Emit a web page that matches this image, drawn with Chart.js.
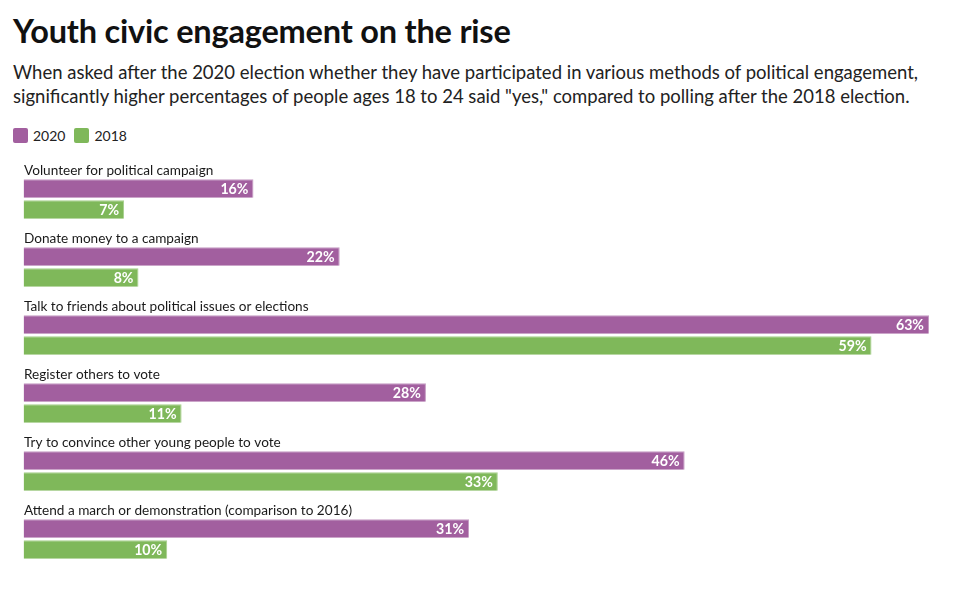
<!DOCTYPE html>
<html>
<head>
<meta charset="utf-8">
<script src="https://cdn.jsdelivr.net/npm/chart.js@4/dist/chart.umd.min.js"></script>
<style>
  html, body { margin: 0; padding: 0; background: #fff; width: 980px; height: 595px; overflow: hidden; }
  body { position: relative; font-family: Lato, "Open Sans", sans-serif; color: #111; }
  #title { position: absolute; left: 13px; top: 11px; font-size: 32.5px; font-weight: 700; color: #111; white-space: nowrap; letter-spacing: -0.2px; }
  #subtitle { position: absolute; left: 13px; top: 60px; font-size: 18.5px; line-height: 24px; color: #222; white-space: nowrap; }
  #legend { position: absolute; left: 13px; top: 127px; display: flex; align-items: center; font-size: 14px; color: #222; }
  .item { display: flex; align-items: center; margin-right: 9px; }
  .sw { width: 15px; height: 15px; border-radius: 2px; margin-right: 5px; }
  #wrap { position: absolute; left: 0; top: 150px; width: 980px; height: 445px; }
</style>
</head>
<body>
<div id="title">Youth civic engagement on the rise</div>
<div id="subtitle">When asked after the 2020 election whether they have participated in various methods of political engagement,<br>significantly higher percentages of people ages 18 to 24 said "yes," compared to polling after the 2018 election.</div>
<div id="legend"></div>
<div id="wrap"><canvas id="c"></canvas></div>
<script>
const categories = [
  "Volunteer for political campaign",
  "Donate money to a campaign",
  "Talk to friends about political issues or elections",
  "Register others to vote",
  "Try to convince other young people to vote",
  "Attend a march or demonstration (comparison to 2016)"
];
const values2020 = [16, 22, 63, 28, 46, 31];
const values2018 = [7, 8, 59, 11, 33, 10];
const seriesNames = ["2020", "2018"];
const colors = ["#a25f9f", "#7fb85a"];
const borders = ["#c59bc3", "#a6d08c"];

const categoryLabels = {
  id: 'categoryLabels',
  afterDatasetsDraw(chart) {
    const ctx = chart.ctx;
    const y = chart.scales.y;
    const band = (y.getPixelForValue(1) - y.getPixelForValue(0));
    ctx.save();
    ctx.font = '13.6px Lato, "Open Sans", sans-serif';
    ctx.fillStyle = '#1a1a1a';
    ctx.textAlign = 'left';
    ctx.textBaseline = 'alphabetic';
    chart.data.labels.forEach((lab, i) => {
      const cy = y.getPixelForValue(i);
      ctx.fillText(lab, chart.chartArea.left + 0.5, cy - band / 2 + 10);
    });
    ctx.restore();
  }
};

const valueLabels = {
  id: 'valueLabels',
  afterDatasetsDraw(chart) {
    const ctx = chart.ctx;
    ctx.save();
    ctx.font = 'bold 14.2px Lato, "Open Sans", sans-serif';
    ctx.fillStyle = '#ffffff';
    ctx.textAlign = 'right';
    ctx.textBaseline = 'middle';
    chart.data.datasets.forEach((ds, di) => {
      const meta = chart.getDatasetMeta(di);
      meta.data.forEach((bar, i) => {
        ctx.fillText(ds.data[i] + '%', bar.x - 5, bar.y + 1);
      });
    });
    ctx.restore();
  }
};

const chart = new Chart(document.getElementById('c'), {
  type: 'bar',
  data: {
    labels: categories,
    datasets: [
      { label: seriesNames[0], data: values2020, backgroundColor: colors[0], borderColor: borders[0], borderWidth: {top: 1, right: 1, bottom: 0, left: 0}, borderSkipped: false },
      { label: seriesNames[1], data: values2018, backgroundColor: colors[1], borderColor: borders[1], borderWidth: {top: 1, right: 1, bottom: 0, left: 0}, borderSkipped: false }
    ]
  },
  options: {
    indexAxis: 'y',
    responsive: true,
    maintainAspectRatio: false,
    animation: false,
    categoryPercentage: 0.618,
    barPercentage: 0.88,
    layout: { padding: { left: 23.5, right: 51, top: 15, bottom: 22 } },
    scales: {
      x: { display: false, min: 0, max: 63 },
      y: { display: false }
    },
    plugins: {
      legend: { display: false },
      tooltip: { enabled: false }
    }
  },
  plugins: [categoryLabels, valueLabels]
});

// HTML legend built from the chart's datasets
const legendEl = document.getElementById('legend');
chart.data.datasets.forEach(ds => {
  const item = document.createElement('div');
  item.className = 'item';
  const sw = document.createElement('span');
  sw.className = 'sw';
  sw.style.background = ds.backgroundColor;
  const t = document.createElement('span');
  t.textContent = ds.label;
  item.appendChild(sw); item.appendChild(t);
  legendEl.appendChild(item);
});
</script>
</body>
</html>
